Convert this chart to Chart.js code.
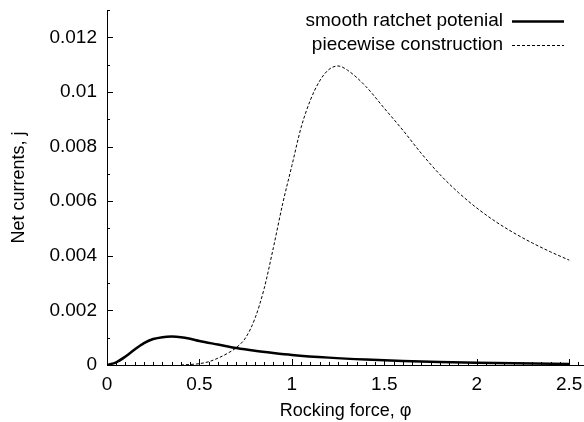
<!DOCTYPE html>
<html>
<head>
<meta charset="utf-8">
<script src="https://cdn.jsdelivr.net/npm/chart.js@4/dist/chart.umd.min.js"></script>
<style>
  html, body { margin: 0; padding: 0; background: #fff; }
  #wrap { width: 584px; height: 422px; }
</style>
</head>
<body>
<div id="wrap"><canvas id="currentChart" width="584" height="422"></canvas></div>
<script>
// data
const smoothX = [0, 0.05, 0.1, 0.15, 0.2, 0.25, 0.3, 0.35, 0.4, 0.45, 0.5, 0.6, 0.7, 0.8, 0.9, 1.0, 1.2, 1.4, 1.6, 1.8, 2.0, 2.2, 2.5];
const smoothY = [0, 0.0001, 0.00031, 0.00057, 0.0008, 0.00095, 0.00102, 0.00104, 0.00102, 0.00096, 0.00088, 0.00075, 0.00062, 0.00052, 0.00044, 0.00037, 0.00027, 0.0002, 0.00015, 0.00011, 0.00008, 0.00006, 0.00004];

const pieceX = [0.4, 0.5, 0.55, 0.6, 0.65, 0.7, 0.75, 0.8, 0.85, 0.9, 0.95, 1.0, 1.05, 1.1, 1.15, 1.2, 1.25, 1.3, 1.4, 1.5, 1.6, 1.7, 1.8, 1.9, 2.0, 2.1, 2.2, 2.3, 2.4, 2.5];
const pieceY = [0, 0.00005, 0.00012, 0.00025, 0.00042, 0.00064, 0.001, 0.0017, 0.0028, 0.0043, 0.0059, 0.0073, 0.0087, 0.0097, 0.0104, 0.01082, 0.01095, 0.0108, 0.0102, 0.0094, 0.0086, 0.00775, 0.00698, 0.00632, 0.00575, 0.00526, 0.00484, 0.00447, 0.00414, 0.00384];

const seriesLabels = ['smooth ratchet potenial', 'piecewise construction'];
const xTitle = 'Rocking force, \u03c6';
const yTitle = 'Net currents, j';

const FONT = '"Liberation Sans", Arial, Helvetica, sans-serif';

function toPoints(xs, ys) {
  return xs.map((x, i) => ({ x: x, y: ys[i] }));
}

// inward tick marks, drawn with the chart's own scales
const innerTicks = {
  id: 'innerTicks',
  afterDatasetsDraw(chart) {
    const ctx = chart.ctx;
    const xs = chart.scales.x, ys = chart.scales.y;
    const area = chart.chartArea;
    ctx.save();
    ctx.strokeStyle = '#000';
    ctx.lineWidth = 1;
    ctx.beginPath();
    for (let i = 0; i <= 51; i++) {
      const v = i * 0.05;
      const px = Math.round(xs.getPixelForValue(v)) + 0.5;
      if (px > area.right) break;
      const len = (i % 10 === 0) ? 6 : 3;
      ctx.moveTo(px, area.bottom);
      ctx.lineTo(px, area.bottom - len);
    }
    for (let i = 0; i <= 13; i++) {
      const v = i * 0.001;
      const py = Math.round(ys.getPixelForValue(v)) + 0.5;
      const len = (i % 2 === 0) ? 6 : 3;
      ctx.moveTo(area.left, py);
      ctx.lineTo(area.left + len, py);
    }
    ctx.stroke();
    ctx.restore();
  }
};

// legend like the original: text on the left, line sample on the right
const keyLegend = {
  id: 'keyLegend',
  afterDraw(chart) {
    const ctx = chart.ctx;
    ctx.save();
    ctx.font = '19px ' + FONT;
    ctx.fillStyle = '#000';
    ctx.textAlign = 'right';
    ctx.textBaseline = 'middle';
    chart.data.datasets.forEach((ds, i) => {
      const y = 21 + i * 24;
      ctx.fillText(ds.label, 503, y);
      ctx.strokeStyle = ds.borderColor;
      ctx.lineWidth = ds.borderWidth;
      ctx.setLineDash(ds.borderDash || []);
      ctx.beginPath();
      ctx.moveTo(512, y + 0.5);
      ctx.lineTo(564, y + 0.5);
      ctx.stroke();
    });
    ctx.restore();
  }
};

const ctx = document.getElementById('currentChart').getContext('2d');
new Chart(ctx, {
  type: 'line',
  data: {
    datasets: [
      {
        label: seriesLabels[0],
        data: toPoints(smoothX, smoothY),
        borderColor: '#000',
        borderWidth: 2.5,
        pointRadius: 0,
        cubicInterpolationMode: 'monotone',
        fill: false
      },
      {
        label: seriesLabels[1],
        data: toPoints(pieceX, pieceY),
        borderColor: '#000',
        borderWidth: 1,
        borderDash: [3, 2],
        pointRadius: 0,
        cubicInterpolationMode: 'monotone',
        fill: false
      }
    ]
  },
  options: {
    responsive: false,
    animation: false,
    devicePixelRatio: 1,
    layout: { padding: { top: 10, right: 0, left: 0, bottom: 0 } },
    plugins: {
      legend: { display: false },
      tooltip: { enabled: false }
    },
    scales: {
      x: {
        type: 'linear',
        min: 0,
        max: 2.58,
        afterFit: function(s) { s.height = 57; s.paddingLeft = 0; s.paddingRight = 0; },
        grid: { display: false, drawTicks: false },
        border: { display: true, color: '#000', width: 1 },
        ticks: {
          stepSize: 0.5,
          includeBounds: false,
          padding: 8,
          color: '#000',
          font: { family: FONT, size: 19 },
          maxRotation: 0,
          callback: function(v) { return String(Number(v.toFixed(2))); }
        },
        title: {
          display: true,
          text: xTitle,
          color: '#000',
          font: { family: FONT, size: 18 },
          padding: { top: 2, bottom: 0 }
        }
      },
      y: {
        type: 'linear',
        min: 0,
        max: 0.013,
        afterFit: function(s) { s.width = 107; s.paddingTop = 0; s.paddingBottom = 0; },
        grid: { display: false, drawTicks: false },
        border: { display: true, color: '#000', width: 1 },
        ticks: {
          stepSize: 0.002,
          includeBounds: false,
          padding: 10,
          color: '#000',
          font: { family: FONT, size: 19 },
          callback: function(v) { return String(Number(v.toFixed(3))); }
        },
        title: {
          display: true,
          text: yTitle,
          color: '#000',
          font: { family: FONT, size: 18 },
          padding: { top: 8, bottom: 0 }
        }
      }
    }
  },
  plugins: [innerTicks, keyLegend]
});
</script>
</body>
</html>
